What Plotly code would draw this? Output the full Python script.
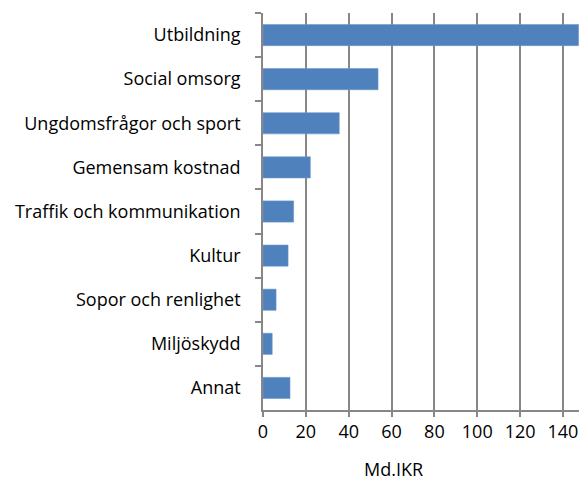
import plotly.graph_objects as go

categories = ["Utbildning", "Social omsorg", "Ungdomsfrågor och sport", "Gemensam kostnad",
              "Traffik och kommunikation", "Kultur", "Sopor och renlighet", "Miljöskydd", "Annat"]
values = [147.3, 53.7, 35.6, 22.1, 14.3, 11.7, 6.1, 4.3, 12.6]
x_ticks = [0, 20, 40, 60, 80, 100, 120, 140]
x_title = "Md.IKR"

FONT = "Open Sans"
GRID = "#878787"

fig = go.Figure(go.Bar(
    x=values, y=categories, orientation="h",
    marker=dict(color="#4F81BD", line=dict(color="#6F98CC", width=0.6)),
    width=0.48,
))

fig.update_layout(
    width=584, height=482,
    margin=dict(l=263, r=5, t=13, b=72),
    plot_bgcolor="white", paper_bgcolor="white",
    showlegend=False,
    font=dict(family=FONT, size=18, color="black"),
)
fig.update_xaxes(
    range=[0, 147.5], tickvals=x_ticks, ticktext=[str(t) for t in x_ticks],
    showgrid=True, gridcolor=GRID, gridwidth=1.5,
    showline=True, linecolor=GRID, linewidth=1.5,
    ticks="outside", ticklen=5, tickcolor=GRID, tickwidth=1.5,
    zeroline=False, tickfont=dict(size=18, family=FONT),
)
fig.update_yaxes(
    categoryorder="array", categoryarray=categories, autorange="reversed",
    type="category", tickson="boundaries",
    showgrid=False, showline=True, linecolor=GRID, linewidth=1.5,
    ticks="outside", ticklen=6, tickcolor=GRID, tickwidth=1.5,
    ticklabelstandoff=17, tickfont=dict(size=18, family=FONT),
)
fig.add_annotation(
    text=x_title, xref="paper", yref="paper", x=(393 - 263) / 316, y=-59 / 397,
    xanchor="center", yanchor="middle", showarrow=False,
    font=dict(size=18, family=FONT, color="black"),
)

fig.write_html(
    "out.html",
    config={"displayModeBar": False},
    post_script="document.body.style.margin='0px';document.body.style.overflow='hidden';",
)
